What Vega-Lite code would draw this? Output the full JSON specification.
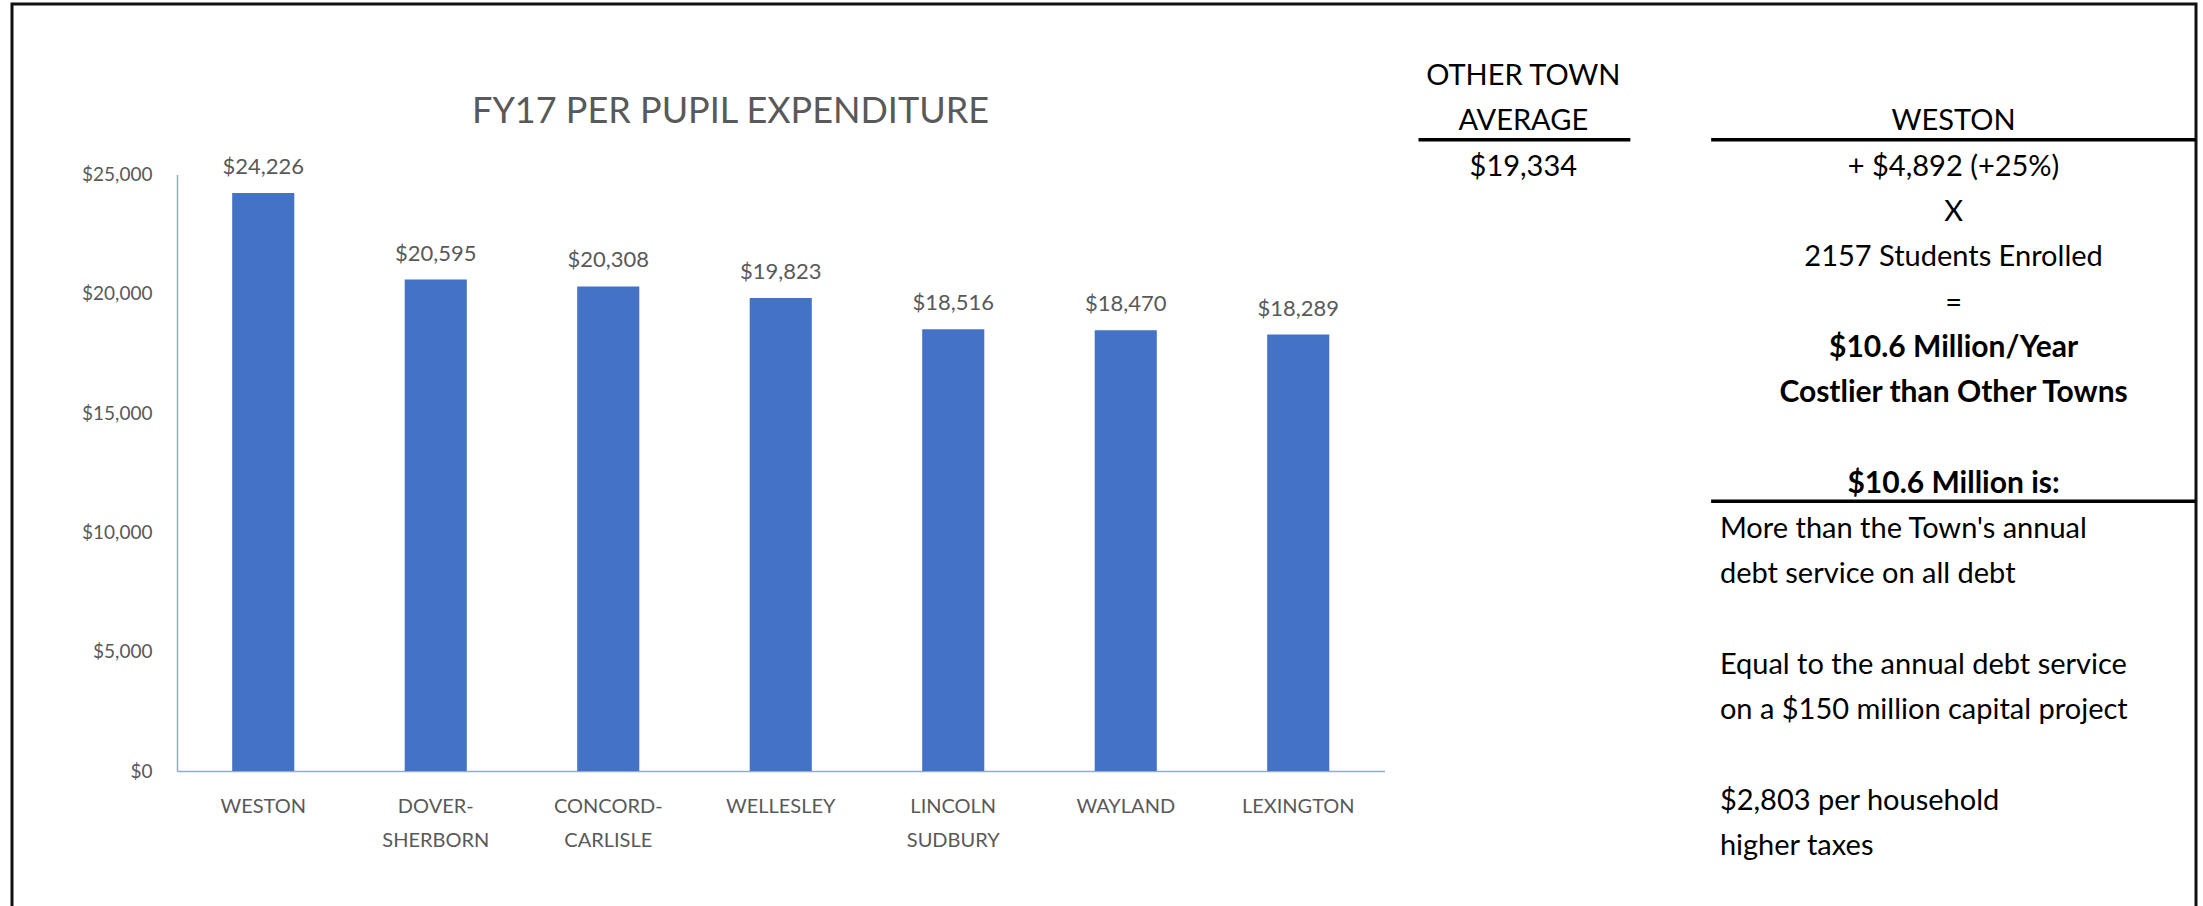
{
  "$schema": "https://vega.github.io/schema/vega-lite/v6.json",
  "autosize": {"type": "none"},
  "width": 2184,
  "height": 902,
  "padding": {"left": 12, "top": 4, "right": 7, "bottom": 0},
  "background": "#ffffff",
  "config": {
    "view": {"stroke": "#111111", "strokeWidth": 3, "strokeDash": [3086, 2184, 902]},
    "font": "Lato"
  },
  "datasets": {
    "spend": [
      {"town": "WESTON", "expenditure": 24226},
      {"town": "DOVER-SHERBORN", "expenditure": 20595},
      {"town": "CONCORD-CARLISLE", "expenditure": 20308},
      {"town": "WELLESLEY", "expenditure": 19823},
      {"town": "LINCOLN SUDBURY", "expenditure": 18516},
      {"town": "WAYLAND", "expenditure": 18470},
      {"town": "LEXINGTON", "expenditure": 18289}
    ],
    "notes": [
      {"text": "FY17 PER PUPIL EXPENDITURE", "role": "title", "col": 32.9, "row": 0.84},
      {"text": "OTHER TOWN", "role": "center", "col": 69.2, "row": 0},
      {"text": "AVERAGE", "role": "center", "col": 69.2, "row": 1},
      {"text": "$19,334", "role": "center", "col": 69.2, "row": 2},
      {"text": "WESTON", "role": "center", "col": 88.9, "row": 1},
      {"text": "+ $4,892 (+25%)", "role": "center", "col": 88.9, "row": 2},
      {"text": "X", "role": "center", "col": 88.9, "row": 3},
      {"text": "2157 Students Enrolled", "role": "center", "col": 88.9, "row": 4},
      {"text": "=", "role": "center", "col": 88.9, "row": 5},
      {"text": "$10.6 Million/Year", "role": "result", "col": 88.9, "row": 6},
      {"text": "Costlier than Other Towns", "role": "result", "col": 88.9, "row": 7},
      {"text": "$10.6 Million is:", "role": "result", "col": 88.9, "row": 9},
      {"text": "More than the Town's annual", "role": "note", "col": 78.2, "row": 10},
      {"text": "debt service on all debt", "role": "note", "col": 78.2, "row": 11},
      {"text": "Equal to the annual debt service", "role": "note", "col": 78.2, "row": 13},
      {"text": "on a $150 million capital project", "role": "note", "col": 78.2, "row": 14},
      {"text": "$2,803 per household", "role": "note", "col": 78.2, "row": 16},
      {"text": "higher taxes", "role": "note", "col": 78.2, "row": 17}
    ],
    "borders": [
      {"border": "average", "col": 64.4, "colEnd": 74.1, "row": 1.45},
      {"border": "weston", "col": 77.8, "colEnd": 100, "row": 1.45},
      {"border": "million", "col": 77.8, "colEnd": 100, "row": 9.43}
    ]
  },
  "layer": [
    {
      "data": {"name": "spend"},
      "encoding": {
        "x": {
          "field": "town",
          "type": "nominal",
          "sort": null,
          "scale": {"range": [165, 1372.5], "paddingInner": 0.64, "paddingOuter": 0.32},
          "axis": {
            "title": null,
            "offset": -135,
            "labelAngle": 0,
            "labelExpr": "split(replace(replace(datum.label, '-', '-|'), ' ', '|'), '|')",
            "labelFontSize": 20,
            "labelColor": "#595959",
            "labelLineHeight": 34,
            "labelPadding": 25,
            "labelBaseline": "top",
            "ticks": false,
            "tickSize": 0,
            "domainColor": "#8FAADC",
            "domainWidth": 1.5,
            "grid": false
          }
        },
        "y": {
          "field": "expenditure",
          "type": "quantitative",
          "scale": {"domain": [0, 25000], "range": [767, 170.5], "nice": false},
          "axis": {
            "title": null,
            "offset": -165,
            "values": [0, 5000, 10000, 15000, 20000, 25000],
            "format": "$,.0f",
            "labelFontSize": 19,
            "labelColor": "#595959",
            "labelPadding": 25,
            "ticks": false,
            "tickSize": 0,
            "domainColor": "#8FAADC",
            "domainWidth": 1.5,
            "grid": false
          }
        }
      },
      "layer": [
        {"mark": {"type": "bar", "color": "#4472C4"}},
        {
          "mark": {"type": "text", "baseline": "alphabetic", "dy": -19, "fontSize": 22, "color": "#595959"},
          "encoding": {"text": {"field": "expenditure", "type": "quantitative", "format": "$,.0f"}}
        }
      ]
    },
    {
      "encoding": {
        "x": {"field": "col", "type": "quantitative", "scale": {"domain": [0, 100], "range": [0, 2184]}, "axis": null},
        "y": {"field": "row", "type": "quantitative", "scale": {"domain": [0, 18], "range": [70, 885.4]}, "axis": null}
      },
      "layer": [
        {
          "data": {"name": "borders"},
          "mark": {"type": "rule", "color": "#000000", "strokeWidth": 3.5},
          "encoding": {"x2": {"field": "colEnd"}}
        },
        {
          "data": {"name": "notes"},
          "transform": [{"filter": "datum.role == 'title'"}],
          "mark": {"type": "text", "align": "center", "baseline": "middle", "fontSize": 36, "color": "#595959"},
          "encoding": {"text": {"field": "text"}}
        },
        {
          "data": {"name": "notes"},
          "transform": [{"filter": "datum.role == 'center'"}],
          "mark": {"type": "text", "align": "center", "baseline": "middle", "dy": 2, "fontSize": 29, "color": "#000000"},
          "encoding": {"text": {"field": "text"}}
        },
        {
          "data": {"name": "notes"},
          "transform": [{"filter": "datum.role == 'result'"}],
          "mark": {"type": "text", "align": "center", "baseline": "middle", "dy": 2, "fontSize": 30, "fontWeight": "bold", "color": "#000000"},
          "encoding": {"text": {"field": "text"}}
        },
        {
          "data": {"name": "notes"},
          "transform": [{"filter": "datum.role == 'note'"}],
          "mark": {"type": "text", "align": "left", "baseline": "middle", "dy": 2, "fontSize": 29, "color": "#000000"},
          "encoding": {"text": {"field": "text"}}
        }
      ]
    }
  ],
  "resolve": {"scale": {"x": "independent", "y": "independent"}, "axis": {"x": "independent", "y": "independent"}}
}
